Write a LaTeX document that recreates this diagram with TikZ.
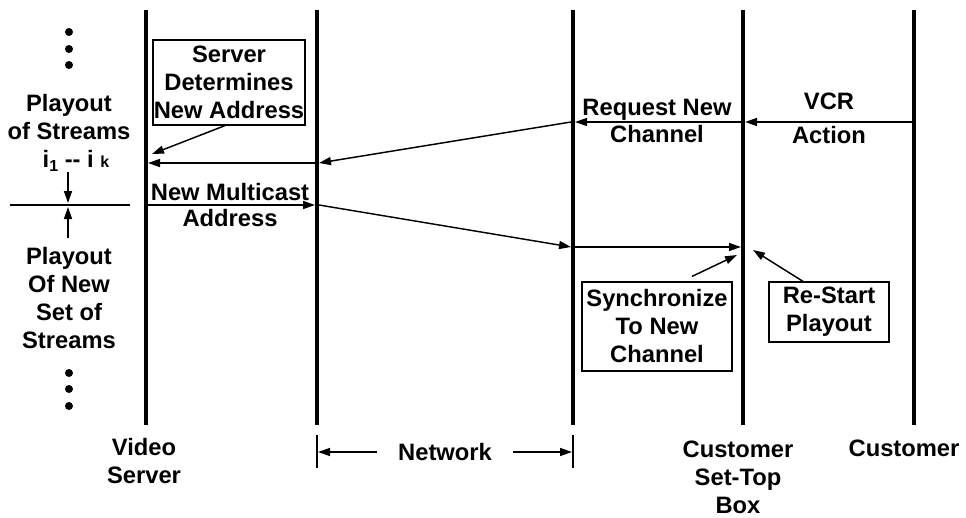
\documentclass[tikz,border=0pt]{standalone}
\usepackage{fontspec}
\setmainfont{Liberation Sans}
\usetikzlibrary{arrows.meta}
\begin{document}
\begin{tikzpicture}[x=0.75pt,y=-0.75pt,
 txt/.style={font=\fontsize{17.8}{21}\selectfont\bfseries, align=center, inner sep=0pt},
 box/.style={txt, draw, line width=0.9pt},
 life/.style={line width=3.2pt},
 netl/.style={line width=2.5pt},
 thinl/.style={line width=1pt},
 msg/.style={line width=1.1pt, -{Triangle[length=9pt,width=6pt]}},
 dot/.style={circle, fill, inner sep=0pt, minimum size=6pt}]
\useasboundingbox (0,0) rectangle (966,517);

% lifelines
\coordinate (vsT) at (146,10);  \coordinate (vsB) at (146,425);
\coordinate (n1T) at (317,10);  \coordinate (n1B) at (317,425);
\coordinate (n2T) at (573,10);  \coordinate (n2B) at (573,425);
\coordinate (stT) at (743,10);  \coordinate (stB) at (743,425);
\coordinate (cuT) at (914,10);  \coordinate (cuB) at (914,425);
\draw[life] (vsT) -- (vsB);
\draw[netl] (n1T) -- (n1B);
\draw[netl] (n2T) -- (n2B);
\draw[life] (stT) -- (stB);
\draw[life] (cuT) -- (cuB);

% message points
\coordinate (cu1) at (912,122);
\coordinate (st1r) at (745,122); \coordinate (st1l) at (741,122);
\coordinate (n2a) at (575,122);  \coordinate (n2b) at (571,122);
\coordinate (n1a) at (319,163);  \coordinate (n1b) at (315,163);
\coordinate (vs1) at (148,163);
\coordinate (vs2) at (148,205);
\coordinate (n1c) at (315,205);  \coordinate (n1d) at (319,205);
\coordinate (n2c) at (571,247);  \coordinate (n2d) at (575,247);
\coordinate (st2) at (741,247);
\coordinate (vsX) at (152,154);
\coordinate (stX) at (737,255);
\coordinate (stY) at (753,250);

% left column
\node[dot] (d1) at (69,32) {};
\node[dot] (d2) at (69,49) {};
\node[dot] (d3) at (69,65) {};
\node[txt] (po1) at (69,117.5) {Playout\\of Streams};
\node[txt, anchor=base] (ik) at (76,167) {i\raisebox{-0.35ex}{\fontsize{12}{12}\selectfont 1} -{}- i {\fontsize{12}{12}\selectfont k}};
\coordinate (sepL) at (10,205); \coordinate (sepR) at (130,205);
\draw[thinl] (sepL) -- (sepR);
\coordinate (dnA) at (68,172); \coordinate (dnB) at (68,203);
\coordinate (upA) at (68,238); \coordinate (upB) at (68,207);
\draw[msg] (dnA) -- (dnB);
\draw[msg] (upA) -- (upB);
\node[txt] (po2) at (69,298) {Playout\\Of New\\Set of\\Streams};
\node[dot] (d4) at (69,373) {};
\node[dot] (d5) at (69,389) {};
\node[dot] (d6) at (69,406) {};

% boxes and labels
\node[box, minimum width=114pt, minimum height=63.75pt] (sdn) at (229,82.5) {Server\\Determines\\New Address};
\node[txt] (nma) at (230,205) {New Multicast\\[-1.5pt]Address};
\node[txt] (rnc) at (657,121) {Request New\\[-1pt]Channel};
\node[txt] (vcr) at (829,118.5) {VCR\\[4.5pt]Action};
\node[box, minimum width=112.5pt, minimum height=66.75pt] (sync) at (657,326.5) {Synchronize\\To New\\Channel};
\node[box, minimum width=90pt, minimum height=45pt] (rsp) at (829,312) {Re-Start\\Playout};

% messages
\draw[msg] (cu1) -- (st1r);
\draw[msg] (st1l) -- (n2a);
\draw[msg] (n2b) -- (n1a);
\draw[msg] (n1b) -- (vs1);
\draw[msg] (vs2) -- (n1c);
\draw[msg] (n1d) -- (n2c);
\draw[msg] (n2d) -- (st2);
\draw[msg] ([xshift=-3pt]sdn.south) -- (vsX);
\draw[msg] ([shift={(35,-5)}]sync.north) -- (stX);
\draw[msg] ([shift={(-26,0)}]rsp.north) -- (stY);

% bottom labels
\node[txt] (vsl) at (144,461) {Video\\Server};
\node[txt] (stl) at (738,477) {Customer\\Set-Top\\Box};
\node[txt] (cul) at (904,448) {Customer};
\node[txt] (net) at (445,452) {Network};
\coordinate (t1a) at (317,435); \coordinate (t1b) at (317,468);
\coordinate (t2a) at (573,435); \coordinate (t2b) at (573,468);
\draw[thinl] (t1a) -- (t1b);
\draw[thinl] (t2a) -- (t2b);
\coordinate (na) at (377,452); \coordinate (nb) at (318,452);
\coordinate (nc) at (513,452); \coordinate (nd) at (572,452);
\draw[msg] (na) -- (nb);
\draw[msg] (nc) -- (nd);
\end{tikzpicture}
\end{document}
